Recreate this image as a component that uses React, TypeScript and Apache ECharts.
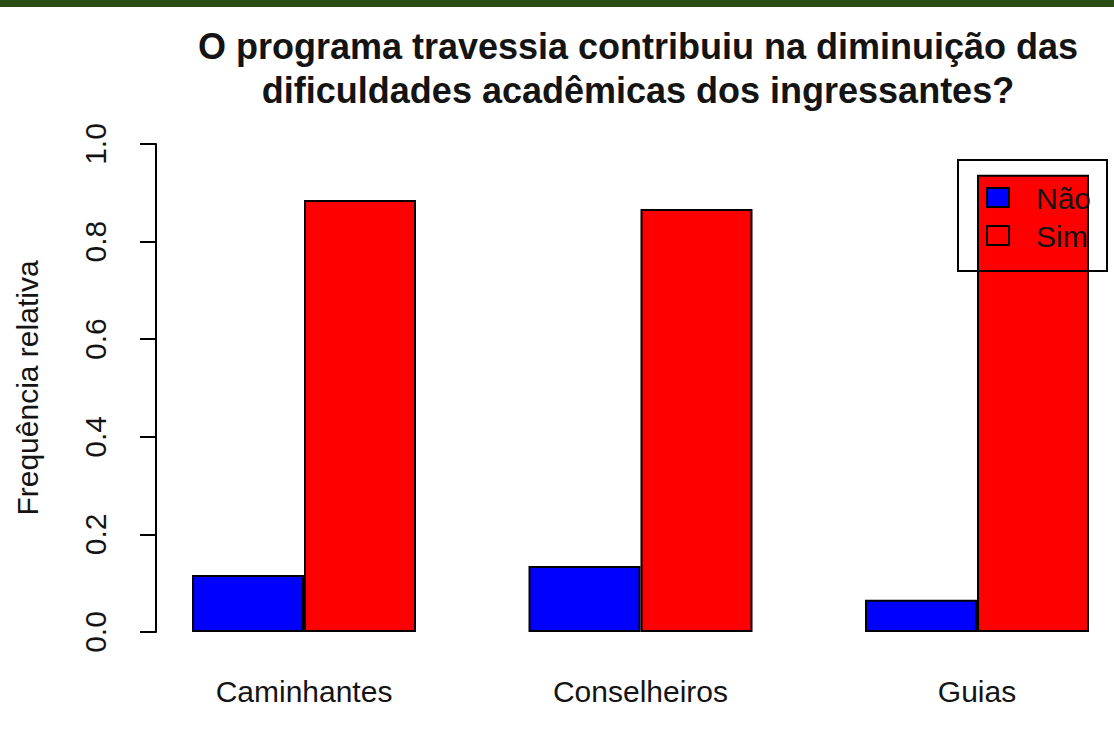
import React, { useEffect, useRef } from "react";
import * as echarts from "echarts";

const categories = ["Caminhantes", "Conselheiros", "Guias"];
const naoValues = [0.117, 0.135, 0.066];
const simValues = [0.885, 0.867, 0.937];
const seriesNames = ["Não", "Sim"];
const yTicks = { min: 0, max: 1, interval: 0.2 };
const titleText = "O programa travessia contribuiu na diminuição das\ndificuldades acadêmicas dos ingressantes?";
const yLabel = "Frequência relativa";

const FONT = "'Liberation Sans', Arial, sans-serif";
const TXT = "#141414";

export default function App() {
  const ref = useRef<HTMLDivElement>(null);
  useEffect(() => {
    if (!ref.current) return;
    const chart = echarts.init(ref.current, null, { renderer: "svg" });
    const barStyle = (color: string) => ({ color, borderColor: "#000", borderWidth: 2 });
    chart.setOption({
      animation: false,
      backgroundColor: "#fff",
      textStyle: { fontFamily: FONT },
      title: {
        text: titleText,
        left: 633,
        top: 19,
        textAlign: "center",
        textStyle: { fontFamily: FONT, fontSize: 36, fontWeight: "bold", color: TXT, lineHeight: 44 },
      },
      grid: { left: 304, right: 137, top: 144, bottom: 102 },
      xAxis: {
        type: "category",
        data: categories,
        boundaryGap: false,
        axisLine: { show: false },
        axisTick: { show: false },
        axisLabel: { fontFamily: FONT, fontSize: 30, color: TXT, margin: 44 },
      },
      yAxis: {
        type: "value",
        min: yTicks.min,
        max: yTicks.max,
        interval: yTicks.interval,
        offset: 148,
        splitLine: { show: false },
        axisLine: { show: true, lineStyle: { color: "#000", width: 2 } },
        axisTick: { show: true, length: 16, lineStyle: { color: "#000", width: 2 } },
        axisLabel: {
          fontFamily: FONT,
          fontSize: 30,
          color: TXT,
          rotate: 90,
          margin: 46,
          formatter: (v: number) => v.toFixed(1),
        },
      },
      series: [
        {
          name: seriesNames[0],
          type: "bar",
          data: naoValues,
          barWidth: 112,
          barGap: "0%",
          itemStyle: barStyle("#0000ff"),
        },
        {
          name: seriesNames[1],
          type: "bar",
          data: simValues,
          barWidth: 112,
          barGap: "0%",
          itemStyle: barStyle("#ff0000"),
        },
      ],
      graphic: [
        { type: "rect", shape: { x: 0, y: 0, width: 1114, height: 7 }, style: { fill: "#2b4c14" } },
        {
          type: "text",
          x: 27,
          y: 388,
          rotation: Math.PI / 2,
          style: { text: yLabel, font: `30px ${FONT}`, fill: TXT, align: "center", verticalAlign: "middle" },
        },
        {
          type: "rect",
          shape: { x: 958, y: 160, width: 149, height: 111 },
          style: { fill: "none", stroke: "#000", lineWidth: 2 },
          z: 10,
        },
        {
          type: "rect",
          shape: { x: 987, y: 188, width: 22, height: 19 },
          style: { fill: "#0000ff", stroke: "#000", lineWidth: 2 },
          z: 10,
        },
        {
          type: "rect",
          shape: { x: 987, y: 226, width: 22, height: 19 },
          style: { fill: "#ff0000", stroke: "#000", lineWidth: 2 },
          z: 10,
        },
        {
          type: "text",
          x: 1036,
          y: 198,
          style: { text: seriesNames[0], font: `30px ${FONT}`, fill: TXT, verticalAlign: "middle" },
          z: 10,
        },
        {
          type: "text",
          x: 1036,
          y: 236,
          style: { text: seriesNames[1], font: `30px ${FONT}`, fill: TXT, verticalAlign: "middle" },
          z: 10,
        },
      ],
    });
    return () => chart.dispose();
  }, []);
  return <div ref={ref} style={{ position: "fixed", left: 0, top: 0, width: 1114, height: 734 }} />;
}
